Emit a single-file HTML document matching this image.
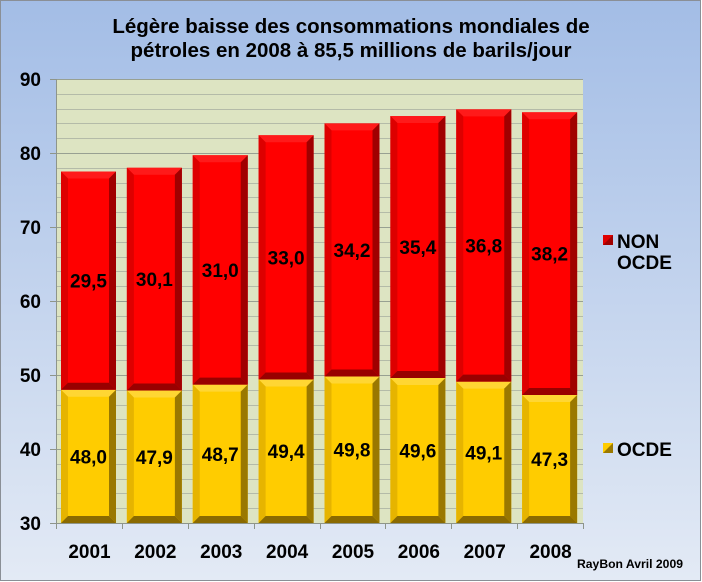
<!DOCTYPE html>
<html><head><meta charset="utf-8"><style>
html,body{margin:0;padding:0;width:702px;height:582px;overflow:hidden}
svg{display:block}
text{font-family:"Liberation Sans",Arial,sans-serif;font-weight:bold;fill:#000}
</style></head><body>
<svg id="s" width="702" height="582" viewBox="0 0 702 582" xmlns="http://www.w3.org/2000/svg">
<defs>
<linearGradient id="bg" x1="0" y1="0" x2="0" y2="1">
<stop offset="0" stop-color="#a3bde6"/><stop offset="1" stop-color="#e3eaf5"/>
</linearGradient>
</defs>
<rect x="0.5" y="0.5" width="700" height="580" fill="url(#bg)" stroke="#8a8f96"/>
<rect x="56" y="79" width="527" height="444" fill="#dde4c2"/>
<g id="grid"></g>
<g id="bars"></g>
<text x="351" y="33" font-size="20.5" text-anchor="middle">Légère baisse des consommations mondiales de</text>
<text x="351" y="57" font-size="20.5" text-anchor="middle">pétroles en 2008  à 85,5 millions de barils/jour</text>
<g id="yl" font-size="19" text-anchor="end"></g>
<g id="xl" font-size="19" text-anchor="middle"></g>
<rect x="603" y="235" width="10" height="10" fill="#e00000"/>
<polygon points="613,235 613,245 603,245" fill="#a00000"/>
<text x="617" y="248" font-size="19">NON</text>
<text x="617" y="269" font-size="19">OCDE</text>
<rect x="603" y="443" width="10" height="10" fill="#ffcc00"/>
<polygon points="613,443 613,453 603,453" fill="#9a7800"/>
<text x="617" y="456" font-size="19">OCDE</text>
<text x="683" y="568" font-size="12" text-anchor="end" textLength="106" lengthAdjust="spacingAndGlyphs">RayBon Avril 2009</text>
</svg>
<script>
var NS="http://www.w3.org/2000/svg";
function el(p,t,a,tx){var e=document.createElementNS(NS,t);for(var k in a)e.setAttribute(k,a[k]);if(tx)e.textContent=tx;p.appendChild(e);return e;}
function Y(v){return 523-(v-30)*7.4;}
var g=document.getElementById('grid');
for(var v=32;v<=90;v+=2){var y=Math.round(Y(v))+0.5;el(g,'line',{x1:56,x2:583,y1:y,y2:y,stroke:(v%10==0)?'#98a092':'#b4bba8','stroke-width':1});}
el(g,'line',{x1:56.5,x2:56.5,y1:79,y2:523,stroke:'#8e958a'});
el(g,'line',{x1:50,x2:583,y1:523.5,y2:523.5,stroke:'#8e958a'});
for(var v=30;v<=90;v+=10){var y=Math.round(Y(v))+0.5;el(g,'line',{x1:50,x2:56,y1:y,y2:y,stroke:'#8e958a'});el(document.getElementById('yl'),'text',{x:41,y:Y(v)+7},String(v));}
for(var i=0;i<=8;i++){var x=Math.round(56+i*65.875)+0.5;el(g,'line',{x1:x,x2:x,y1:523,y2:529,stroke:'#8e958a'});}
var o=[48.0,47.9,48.7,49.4,49.8,49.6,49.1,47.3],n=[29.5,30.1,31.0,33.0,34.2,35.4,36.8,38.2];
var b=document.getElementById('bars');
function bev(x0,y0,x1,y1,c){var d=7;
el(b,'rect',{x:x0,y:y0,width:x1-x0,height:y1-y0,fill:c[0]});
el(b,'polygon',{points:[x0,y0,x1,y0,x1-d,y0+d,x0+d,y0+d].join(' '),fill:c[1]});
el(b,'polygon',{points:[x0,y0,x0+d,y0+d,x0+d,y1-d,x0,y1].join(' '),fill:c[2]});
el(b,'polygon',{points:[x1,y0,x1,y1,x1-d,y1-d,x1-d,y0+d].join(' '),fill:c[3]});
el(b,'polygon',{points:[x0,y1,x0+d,y1-d,x1-d,y1-d,x1,y1].join(' '),fill:c[4]});}
var yel=['#ffcc00','#ffd633','#e6b400','#9a7800','#8a6a00'],red=['#ff0000','#ff1a1a','#dd0000','#a00000','#990000'];
for(var i=0;i<8;i++){var x0=61+i*65.875,x1=x0+55;var ym=Y(o[i]),yt=Y(o[i]+n[i]);
bev(x0,ym,x1,523,yel);bev(x0,yt,x1,ym,red);
var cx=x0+27.5;
el(b,'text',{x:cx,y:(ym+523)/2+7,'font-size':19,'text-anchor':'middle'},o[i].toFixed(1).replace('.',','));
el(b,'text',{x:cx,y:(ym+yt)/2+7,'font-size':19,'text-anchor':'middle'},n[i].toFixed(1).replace('.',','));
el(document.getElementById('xl'),'text',{x:cx+1,y:558},String(2001+i));}
</script>
</body></html>
